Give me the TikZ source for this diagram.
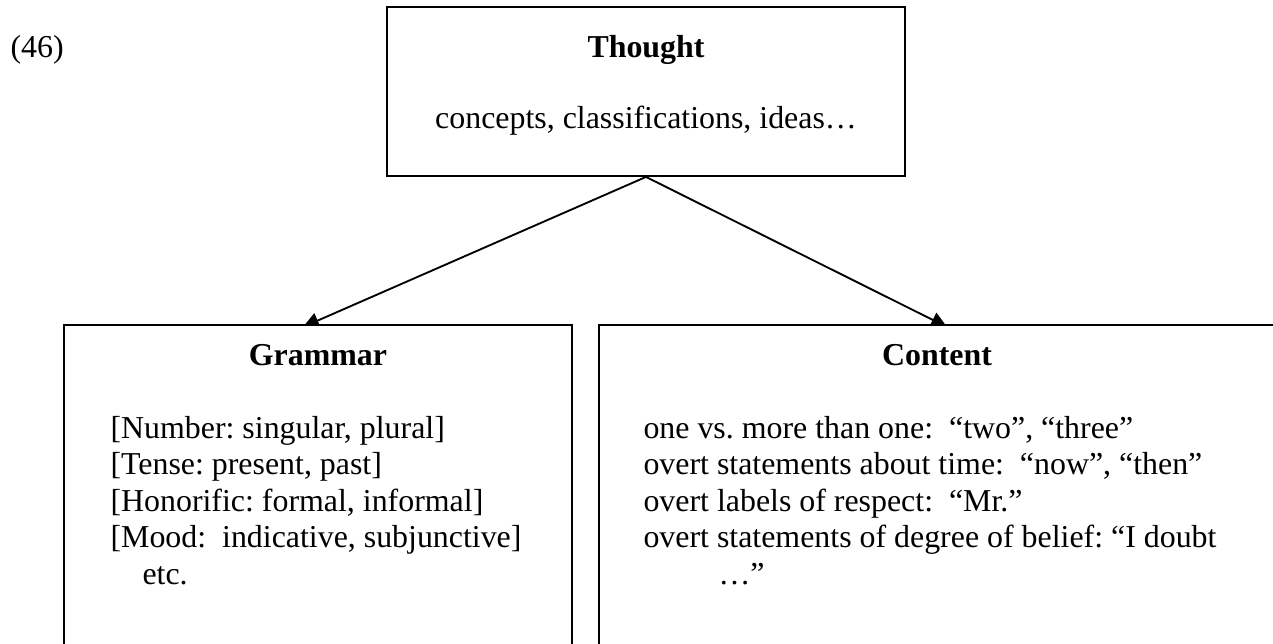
\documentclass[tikz,border=0pt]{standalone}
\usepackage{fontspec}
\setmainfont{Liberation Serif}
\usetikzlibrary{arrows.meta}
\frenchspacing
\begin{document}
\begin{tikzpicture}[x=0.3763pt, y=-0.3763pt,
  box/.style={draw, line width=0.7pt, fill=white, inner sep=0pt},
  txt/.style={inner sep=0pt, font=\fontsize{12}{13.8}\selectfont},
  ttl/.style={txt, font=\fontsize{12}{13.8}\selectfont\bfseries, anchor=base},
  ln/.style={txt, anchor=base west},
  arr/.style={line width=0.7pt, -{Triangle[length=6pt,width=6pt]}}]
\useasboundingbox (0,0) rectangle (1273,644);
\clip (0,0) rectangle (1273,644);
% connector end points (inside the lower boxes, hidden by their fill)
\coordinate (tipL) at (303,327);
\coordinate (tipR) at (947,327);
% top box
\node[box, minimum width=518*0.3763pt, minimum height=169*0.3763pt] (thought) at (646,91.5) {};
\draw[arr] (thought.south) -- (tipL);
\draw[arr] (thought.south) -- (tipR);
% lower boxes
\node[box, minimum width=508*0.3763pt, minimum height=375*0.3763pt] (grammar) at (318,512.5) {};
\node[box, minimum width=678*0.3763pt, minimum height=375*0.3763pt] (content) at (938,512.5) {};
% texts
\node[ln] (num) at (10,57) {(46)};
\node[ttl] (tT) at (646,57) {Thought};
\node[txt, anchor=base] (tC) at (646,128) {concepts, classifications, ideas…};
\node[ttl] (gT) at (318,365) {Grammar};
\node[ln] (g1) at (110,438) {[Number: singular, plural]};
\node[ln] (g2) at (110,474.5) {[Tense: present, past]};
\node[ln] (g3) at (110,511) {[Honorific: formal, informal]};
\node[ln] (g4) at (110,547.5) {[Mood:\ \ indicative, subjunctive]};
\node[ln] (g5) at (142,584) {etc.};
\node[ttl] (cT) at (937,365) {Content};
\node[ln] (c1) at (643,438) {one vs. more than one:\ \ “two”, “three”};
\node[ln] (c2) at (643,474.5) {overt statements about time:\ \ “now”, “then”};
\node[ln] (c3) at (643,511) {overt labels of respect:\ \ “Mr.”};
\node[ln] (c4) at (643,547.5) {overt statements of degree of belief: “I doubt};
\node[ln] (c5) at (718,584) {…”};
\end{tikzpicture}
\end{document}
